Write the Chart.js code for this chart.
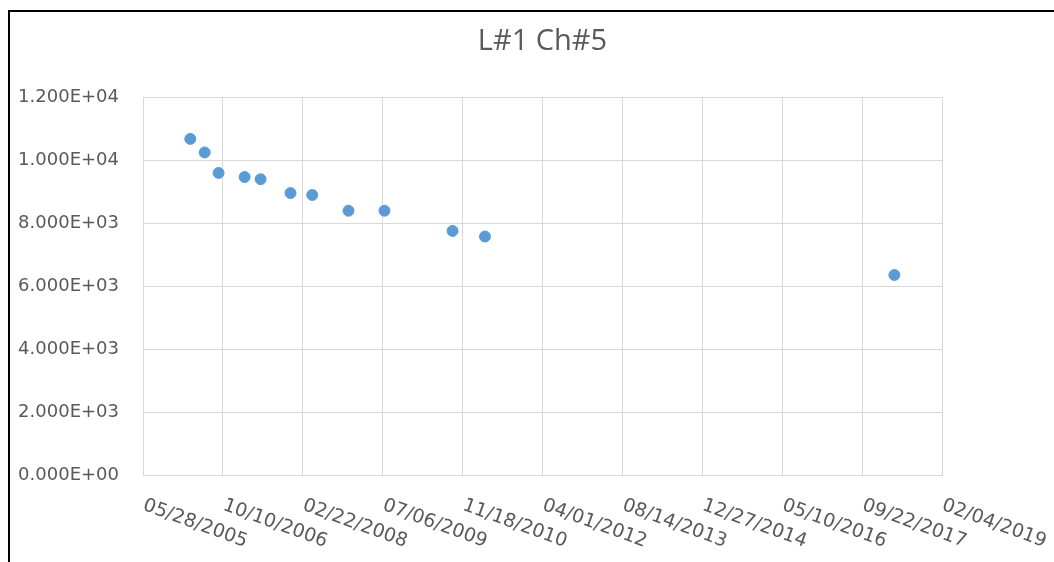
<!DOCTYPE html>
<html lang="en">

<head>
    <meta charset="UTF-8">
    <meta name="viewport" content="width=device-width, initial-scale=1.0">
    <title>L#1 Ch#5</title>
    <script src="https://cdn.jsdelivr.net/npm/chart.js"></script>
    <style>
        html, body { margin: 0; padding: 0; background: #fff; }
        #wrap { position: relative; width: 1054px; height: 562px; overflow: hidden; }
        #frame { position: absolute; left: 8px; top: 10px; width: 1100px; height: 600px;
                 border-left: 2px solid #000; border-top: 2px solid #000; pointer-events: none; }
    </style>
</head>

<body>
    <div id="wrap">
        <canvas id="chart" width="1054" height="562"></canvas>
        <div id="frame"></div>
    </div>
    <script>
        const dates = ['2006-03-20', '2006-06-18', '2006-09-13', '2007-02-23', '2007-06-03', '2007-12-07',
            '2008-04-21', '2008-12-04', '2009-07-17', '2010-09-16', '2011-04-07', '2018-04-12'];
        const values = [10670, 10240, 9590, 9460, 9390, 8950, 8890, 8390, 8390, 7750, 7570, 6350];

        // x axis runs on excel day numbers, 05/28/2005 .. 02/04/2019 every 500 days
        const xMin = 38500;
        const xMax = 43500;
        const xStep = 500;
        const yMin = 0;
        const yMax = 12000;
        const yStep = 2000;

        const toSerial = (s) => {
            const [y, m, d] = s.split('-').map(Number);
            return Date.UTC(y, m - 1, d) / 86400000 + 25569;
        };
        const fmtDate = (v) => {
            const d = new Date((v - 25569) * 86400000);
            const p = (n) => String(n).padStart(2, '0');
            return p(d.getUTCMonth() + 1) + '/' + p(d.getUTCDate()) + '/' + d.getUTCFullYear();
        };
        const fmtExp = (v) => {
            const [m, e] = Number(v).toExponential(3).split('e');
            const n = Math.abs(parseInt(e));
            return m + 'E' + (parseInt(e) < 0 ? '-' : '+') + String(n).padStart(2, '0');
        };

        const points = dates.map((d, i) => ({ x: toSerial(d), y: values[i] }));

        const gray = '#595959';
        const gridColor = '#d9d9d9';
        const yFont = { family: 'DejaVu Sans', size: 18 };
        const xFontSize = 19;

        // excel style slanted date labels (text runs down to the right from the tick)
        const slantLabels = {
            id: 'slantLabels',
            afterDraw(chart) {
                const sx = chart.scales.x;
                const ctx = chart.ctx;
                ctx.save();
                ctx.font = xFontSize + 'px "DejaVu Sans"';
                ctx.fillStyle = gray;
                ctx.textAlign = 'left';
                ctx.textBaseline = 'top';
                sx.ticks.forEach((t) => {
                    const px = sx.getPixelForValue(t.value);
                    ctx.save();
                    ctx.translate(px + 4, sx.top + 21);
                    ctx.rotate(20 * Math.PI / 180);
                    ctx.fillText(fmtDate(t.value), 0, 0);
                    ctx.restore();
                });
                ctx.restore();
            }
        };

        new Chart(document.getElementById('chart'), {
            type: 'scatter',
            data: {
                datasets: [{
                    label: 'L#1 Ch#5',
                    data: points,
                    backgroundColor: '#5b9bd5',
                    borderColor: '#5b9bd5',
                    pointRadius: 5.5,
                    pointHoverRadius: 5.5
                }]
            },
            options: {
                responsive: false,
                animation: false,
                layout: { padding: { left: 0, right: 112, top: 0, bottom: 0 } },
                scales: {
                    x: {
                        type: 'linear',
                        min: xMin,
                        max: xMax,
                        ticks: { stepSize: xStep, display: false },
                        grid: { color: gridColor, drawTicks: false, tickLength: 0 },
                        border: { color: gridColor },
                        afterFit(scale) { scale.height = 87; }
                    },
                    y: {
                        min: yMin,
                        max: yMax,
                        ticks: {
                            stepSize: yStep,
                            color: gray,
                            font: yFont,
                            padding: 24,
                            callback: (v) => fmtExp(v)
                        },
                        grid: { color: gridColor, drawTicks: false, tickLength: 0 },
                        border: { color: gridColor },
                        afterFit(scale) { scale.width = 143; }
                    }
                },
                plugins: {
                    legend: { display: false },
                    tooltip: { enabled: false },
                    title: {
                        display: true,
                        text: 'L#1 Ch#5',
                        color: gray,
                        fullSize: false,
                        font: { family: 'Open Sans', size: 29, weight: 'normal', lineHeight: 1.2 },
                        padding: { top: 24, bottom: 38.2 }
                    }
                }
            },
            plugins: [slantLabels]
        });
    </script>
</body>

</html>
